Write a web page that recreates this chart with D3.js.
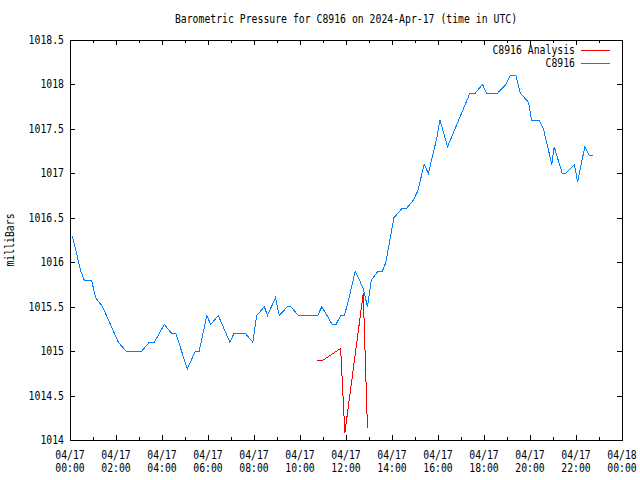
<!DOCTYPE html>
<html>
<head>
<meta charset="utf-8">
<script src="https://cdn.jsdelivr.net/npm/d3@7"></script>
<style>
  body { margin: 0; background: #fff; }
  text { font-family: "DejaVu Sans Mono", "Liberation Mono", monospace; font-size: 12px; fill: #000; }
</style>
</head>
<body>
<div id="graph"></div>
<script>
// C8916 observations (time UTC, mb)
var obsTimes = ["00:06","00:28","00:37","00:56","01:07","01:25","02:06","02:26","03:07","03:27",
  "03:40","04:06","04:25","04:36","05:06","05:27","05:37","05:57","06:07","06:27",
  "06:57","07:08","07:37","07:57","08:07","08:27","08:35","08:56","09:06","09:27",
  "09:36","09:56","10:46","10:57","11:24","11:34","11:46","11:56","12:08","12:24",
  "12:35","12:45","12:56","13:06","13:24","13:35","13:44","14:05","14:25","14:37",
  "14:56","15:07","15:24","15:35","15:57","16:05","16:25","17:23","17:37","17:56",
  "18:07","18:35","18:57","19:08","19:23","19:35","19:56","20:04","20:24","20:35",
  "20:57","21:03","21:24","21:33","21:56","22:04","22:23","22:35","22:45"];
var obsValues = [1016.3,1015.9,1015.8,1015.8,1015.6,1015.5,1015.1,1015.0,1015.0,1015.1,
  1015.1,1015.3,1015.2,1015.2,1014.8,1015.0,1015.0,1015.4,1015.3,1015.4,
  1015.1,1015.2,1015.2,1015.1,1015.4,1015.5,1015.4,1015.6,1015.4,1015.5,
  1015.5,1015.4,1015.4,1015.5,1015.3,1015.3,1015.4,1015.4,1015.6,1015.9,
  1015.8,1015.7,1015.5,1015.8,1015.9,1015.9,1016.0,1016.5,1016.6,1016.6,
  1016.7,1016.8,1017.1,1017.0,1017.4,1017.6,1017.3,1017.9,1017.9,1018.0,
  1017.9,1017.9,1018.0,1018.1,1018.1,1017.9,1017.8,1017.6,1017.6,1017.5,
  1017.1,1017.3,1017.0,1017.0,1017.1,1016.9,1017.3,1017.2,1017.2];

// C8916 Analysis
var anaTimes = ["10:45","10:57","11:46","11:57","12:45","12:56"];
var anaValues = [1014.89,1014.89,1015.03,1014.08,1015.65,1014.13];

var yTicks = [1014,1014.5,1015,1015.5,1016,1016.5,1017,1017.5,1018,1018.5];
var titleText = "Barometric Pressure for C8916 on 2024-Apr-17 (time in UTC)";

var W = 640, H = 480;
var pLeft = 70, pRight = 622, pTop = 40, pBottom = 440;
var charW = 5.9;

function toDate(s) { return new Date("2024-04-17T" + s + ":00Z"); }

var obs = obsTimes.map(function(t, i) { return {t: toDate(t), v: obsValues[i]}; });
var ana = anaTimes.map(function(t, i) { return {t: toDate(t), v: anaValues[i]}; });

var svg = d3.select("#graph").append("svg")
  .attr("width", W).attr("height", H);

var x = d3.scaleUtc()
  .domain([new Date("2024-04-17T00:00:00Z"), new Date("2024-04-18T00:00:00Z")])
  .range([pLeft, pRight]);
var y = d3.scaleLinear().domain([1014, 1018.5]).range([pBottom, pTop]);

function label(sel, txt) {
  sel.text(txt).attr("textLength", txt.length * charW).attr("lengthAdjust", "spacingAndGlyphs");
  return sel;
}

var majorT = x.ticks(d3.utcHour.every(2));
var minorT = x.ticks(d3.utcHour.every(1)).filter(function(d) { return d.getUTCHours() % 2 == 1; });

var g = svg.append("g").attr("shape-rendering", "crispEdges");

function noDomain(a) { a.select(".domain").remove(); }

// ticks (inward, mirrored)
g.append("g").attr("transform", "translate(0," + pBottom + ")")
  .call(d3.axisBottom(x).tickValues(majorT).tickSize(-5).tickFormat("")).call(noDomain);
g.append("g").attr("transform", "translate(0," + pTop + ")")
  .call(d3.axisTop(x).tickValues(majorT).tickSize(-5).tickFormat("")).call(noDomain);
g.append("g").attr("transform", "translate(0," + pBottom + ")")
  .call(d3.axisBottom(x).tickValues(minorT).tickSize(-3).tickFormat("")).call(noDomain);
g.append("g").attr("transform", "translate(0," + pTop + ")")
  .call(d3.axisTop(x).tickValues(minorT).tickSize(-3).tickFormat("")).call(noDomain);
g.append("g").attr("transform", "translate(" + pLeft + ",0)")
  .call(d3.axisLeft(y).tickValues(yTicks).tickSize(-5).tickFormat("")).call(noDomain);
g.append("g").attr("transform", "translate(" + pRight + ",0)")
  .call(d3.axisRight(y).tickValues(yTicks).tickSize(-5).tickFormat("")).call(noDomain);

// frame
g.append("rect").attr("x", pLeft).attr("y", pTop)
  .attr("width", pRight - pLeft).attr("height", pBottom - pTop)
  .attr("fill", "none").attr("stroke", "#000");

// y labels
svg.selectAll("text.ylab").data(yTicks).enter().append("text")
  .attr("class", "ylab")
  .attr("x", 64).attr("y", function(d) { return y(d) + 4; })
  .attr("text-anchor", "end")
  .each(function(d) { label(d3.select(this), d3.format("")(d)); });

// x labels (two lines)
var xlab = svg.selectAll("g.xlab").data(majorT).enter().append("g").attr("class", "xlab");
xlab.append("text")
  .attr("x", function(d) { return x(d); }).attr("y", 459)
  .attr("text-anchor", "middle")
  .each(function(d) { label(d3.select(this), d3.utcFormat("%m/%d")(d)); });
xlab.append("text")
  .attr("x", function(d) { return x(d); }).attr("y", 472)
  .attr("text-anchor", "middle")
  .each(function(d) { label(d3.select(this), d3.utcFormat("%H:%M")(d)); });

// title and y axis label
label(svg.append("text").attr("x", 346).attr("y", 23).attr("text-anchor", "middle"), titleText);
label(svg.append("text").attr("transform", "translate(14,240) rotate(-90)").attr("text-anchor", "middle"), "milliBars");

// lines
var line = d3.line().x(function(d) { return x(d.t); }).y(function(d) { return y(d.v); });

var lines = svg.append("g").attr("shape-rendering", "crispEdges");
lines.append("path").datum(ana).attr("d", line)
  .attr("fill", "none").attr("stroke", "#ff0000").attr("stroke-width", 1);
lines.append("path").datum(obs).attr("d", line)
  .attr("fill", "none").attr("stroke", "#0080ff").attr("stroke-width", 1);

// legend
var legend = [{name: "C8916 Analysis", color: "#ff0000", y: 50}, {name: "C8916", color: "#0080ff", y: 63}];
legend.forEach(function(l) {
  label(svg.append("text").attr("x", 575).attr("y", l.y + 4).attr("text-anchor", "end"), l.name);
  lines.append("line").attr("x1", 581).attr("x2", 610).attr("y1", l.y).attr("y2", l.y)
    .attr("stroke", l.color);
});
</script>
</body>
</html>
